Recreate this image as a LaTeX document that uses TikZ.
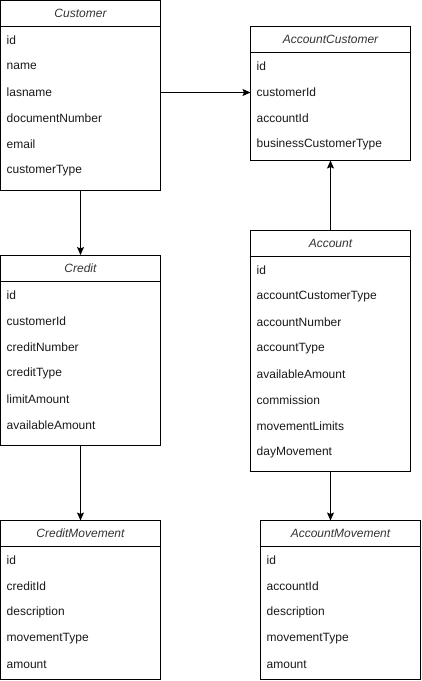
\documentclass[tikz,border=0pt]{standalone}
\usepackage{fontspec}
\setmainfont{Liberation Sans}
\usetikzlibrary{arrows.meta}

\tikzstyle{classhead}=[draw,line width=1pt,minimum height=26pt,inner sep=0pt,outer sep=0pt,anchor=north west,font=\fontsize{12}{14}\selectfont\itshape,text=black!80]
\tikzstyle{classbody}=[draw,line width=1pt,inner sep=0pt,outer sep=0pt,anchor=north west]
\tikzstyle{field}=[anchor=west,inner sep=0pt,text=black!90]
\tikzstyle{link} = [draw,line width=1pt,-{Stealth[length=8pt,width=7pt,inset=1.5pt]}]
\newcommand{\umlclass}[5]{%
    \node[classhead,minimum width=160pt] (#1) at #2 {#3};
    \node[classbody,minimum width=160pt,minimum height=#4] (#1-body) at (#1.south west) {};
    \foreach \field [count=\i] in {#5}
        \node[field] (#1-\i) at ([xshift=6pt,yshift=-14pt-26pt*(\i-1)]#1.south west) {\field};
}

\begin{document}
\begin{tikzpicture}[x=1pt, y=-1pt, font=\fontsize{12}{14}\selectfont]
    \useasboundingbox (0,0) rectangle (421,681);
    % First we draw the classes
    \umlclass{customer}{(0.5,0.5)}{Customer}{164pt}{id,name,lasname,documentNumber,email,customerType}
    \umlclass{acccust}{(250.5,26.5)}{AccountCustomer}{108pt}{id,customerId,accountId,businessCustomerType}
    \umlclass{credit}{(0.5,255)}{Credit}{164pt}{id,customerId,creditNumber,creditType,limitAmount,availableAmount}
    \umlclass{account}{(250.5,230.5)}{Account}{215pt}{id,accountCustomerType,accountNumber,accountType,availableAmount,commission,movementLimits,dayMovement}
    \umlclass{creditmov}{(0.5,520.5)}{CreditMovement}{133pt}{id,creditId,description,movementType,amount}
    \umlclass{accmov}{(260.5,520.5)}{AccountMovement}{133pt}{id,accountId,description,movementType,amount}
    % Connect the classes
    \path[link] (customer-3 -| customer-body.east) -- (acccust-2 -| acccust-body.west);
    \path[link] (customer-body.south) -- (credit.north);
    \path[link] (account.north) -- (acccust-body.south);
    \path[link] (credit-body.south) -- (creditmov.north);
    \path[link] (account-body.south) -- (account-body.south |- accmov.north);
\end{tikzpicture}
\end{document}
